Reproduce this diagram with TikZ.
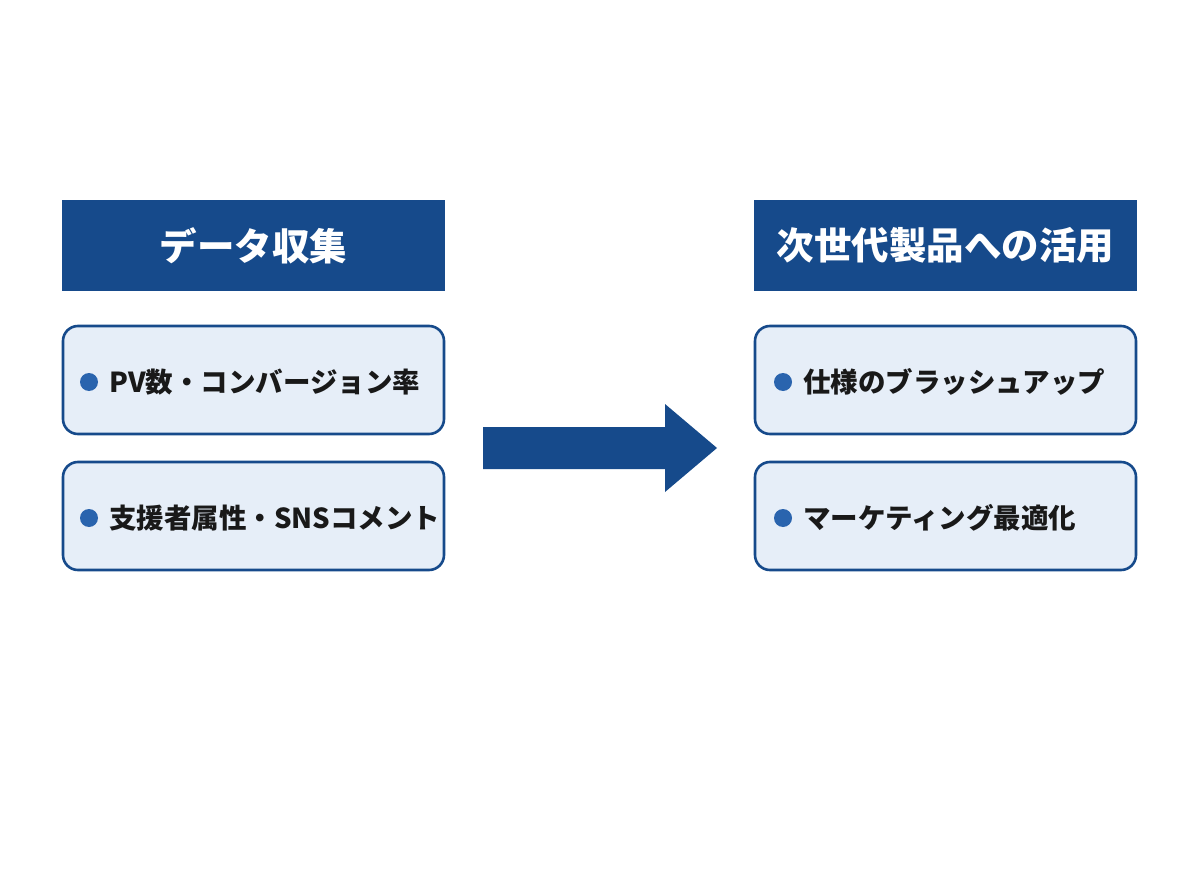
\documentclass[tikz,border=0pt]{standalone}
\usepackage{fontspec}
\setmainfont{Noto Sans CJK JP}
\begin{document}
\begin{tikzpicture}[x=1pt,y=-1pt,
  hdr/.style={fill=hblue,draw=none,minimum width=383pt,minimum height=91pt,inner sep=0pt,text=white,font=\bfseries\fontsize{37.5}{41}\selectfont},
  itembox/.style={fill=lblue,draw=hblue,line width=2.6pt,rounded corners=15pt,minimum width=381pt,minimum height=108pt,inner sep=0pt},
  itemtxt/.style={anchor=west,inner sep=0pt,text=black!90,font=\bfseries\fontsize{27.5}{31}\selectfont},
  dot/.style={circle,fill=dotblue,minimum size=18pt,inner sep=0pt}]
\definecolor{hblue}{HTML}{164A8B}
\definecolor{lblue}{HTML}{E6EEF8}
\definecolor{dotblue}{HTML}{2A64AE}
\useasboundingbox (0,0) rectangle (1200,896);
\fill[white] (0,0) rectangle (1200,896);
% left column
\node[hdr] (lh) at (253.5,245.5) {データ収集};
\node[itembox] (l1) at (253.5,380) {};
\node[itembox] (l2) at (253.5,516) {};
\node[dot] (l1d) at (89,382) {};
\node[itemtxt] (l1t) at (109,382) {PV数・コンバージョン率};
\node[dot] (l2d) at (89,518) {};
\node[itemtxt] (l2t) at (109,518) {支援者属性・SNSコメント};
% right column
\node[hdr] (rh) at (945.5,245.5) {次世代製品への活用};
\node[itembox] (r1) at (945.5,380) {};
\node[itembox] (r2) at (945.5,516) {};
\node[dot] (r1d) at (783,382) {};
\node[itemtxt] (r1t) at (803,382) {仕様のブラッシュアップ};
\node[dot] (r2d) at (783,518) {};
\node[itemtxt] (r2t) at (803,518) {マーケティング最適化};
% arrow
\coordinate (as) at (483,448);
\coordinate (at) at (717,448);
\fill[hblue] (483,427) -- (665,427) -- (665,404) -- (at) -- (665,492) -- (665,469) -- (483,469) -- cycle;
\end{tikzpicture}
\end{document}
